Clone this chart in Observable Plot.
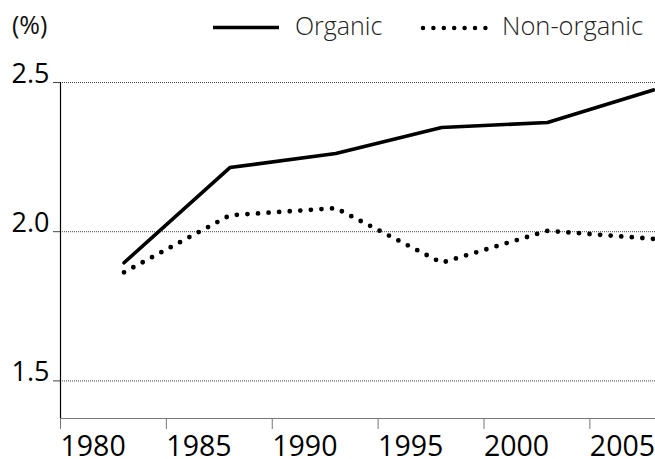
<!DOCTYPE html>
<html><head><meta charset="utf-8">
<script src="https://cdn.jsdelivr.net/npm/d3@7"></script>
<script src="https://cdn.jsdelivr.net/npm/@observablehq/plot@0.6"></script>
<style>
body{margin:0;background:#fff;}
#chart{width:655px;}
svg{display:block;}
.pl g[aria-label="y-axis tick label"] text{font-size:27px;}
.pl g[aria-label="x-axis tick label"] text{font-size:28.5px;}
</style>
</head><body><div id="chart"></div>
<script>
const years = [1983, 1988, 1993, 1998, 2003, 2008];
const organic = [1.896, 2.215, 2.262, 2.349, 2.366, 2.475];
const nonOrganic = [1.864, 2.055, 2.079, 1.896, 2.003, 1.976];
const seriesNames = ["Organic", "Non-organic"];
const xTicks = [1980, 1985, 1990, 1995, 2000, 2005];
const yTicks = [1.5, 2.0, 2.5];
const unitLabel = "(%)";
const xDomain = [1980, 2008.1];
const yDomain = [1.374, 2.5];

const font = "'Open Sans', 'Noto Sans', sans-serif";

// Header with unit label and legend
const header = d3.create("svg").attr("width", 655).attr("height", 60);
header.append("text").attr("x", 12).attr("y", 34)
  .attr("font-family", font).attr("font-size", 25).attr("fill", "#111").text(unitLabel);
header.append("line").attr("x1", 213).attr("x2", 279).attr("y1", 27.5).attr("y2", 27.5)
  .attr("stroke", "black").attr("stroke-width", 3.5);
header.append("text").attr("x", 295).attr("y", 35)
  .attr("font-family", font).attr("font-weight", 300).attr("font-size", 25).attr("fill", "#222").text(seriesNames[0]);
header.append("line").attr("x1", 423).attr("x2", 494).attr("y1", 28).attr("y2", 28)
  .attr("stroke", "black").attr("stroke-width", 4.5).attr("stroke-linecap", "round").attr("stroke-dasharray", "0,10.4");
header.append("text").attr("x", 502).attr("y", 35)
  .attr("font-family", font).attr("font-weight", 300).attr("font-size", 25.5).attr("fill", "#222").text(seriesNames[1]);

const orgRows = years.map((x, i) => ({year: x, value: organic[i], series: seriesNames[0]}));
const nonRows = years.map((x, i) => ({year: x, value: nonOrganic[i], series: seriesNames[1]}));

const chart = Plot.plot({
  className: "pl",
  width: 655,
  height: 399,
  marginTop: 22,
  marginBottom: 41,
  marginLeft: 60,
  marginRight: 0,
  style: {fontFamily: font, fontSize: "27px", color: "black", background: "white", overflow: "visible"},
  x: {domain: xDomain, label: null},
  y: {domain: yDomain, label: null},
  marks: [
    Plot.ruleY(yTicks, {stroke: "#444", strokeDasharray: "1,1", strokeWidth: 1}),
    Plot.ruleY([yDomain[0]], {stroke: "#777", strokeWidth: 1.2}),
    Plot.ruleX([xDomain[0]], {stroke: "black", strokeWidth: 1.2}),
    Plot.axisY({ticks: yTicks, tickSize: 7, tickPadding: 4, tickFormat: d3.format(".1f"), fontSize: 27, lineAnchor: "bottom", label: null, stroke: "#444", fill: "black"}),
    Plot.axisX({ticks: xTicks, tickSize: 11, tickPadding: 6, textAnchor: "start", tickFormat: d => String(d), fontSize: 28.5, label: null, stroke: "#777", fill: "black"}),
    Plot.line(orgRows, {x: "year", y: "value", stroke: "black", strokeWidth: 3.6}),
    Plot.line(nonRows, {x: "year", y: "value", stroke: "black", strokeWidth: 4.8, strokeLinecap: "round", strokeDasharray: "0,10.6"})
  ]
});

const root = document.getElementById("chart");
root.appendChild(header.node());
root.appendChild(chart);
</script>
</body></html>
